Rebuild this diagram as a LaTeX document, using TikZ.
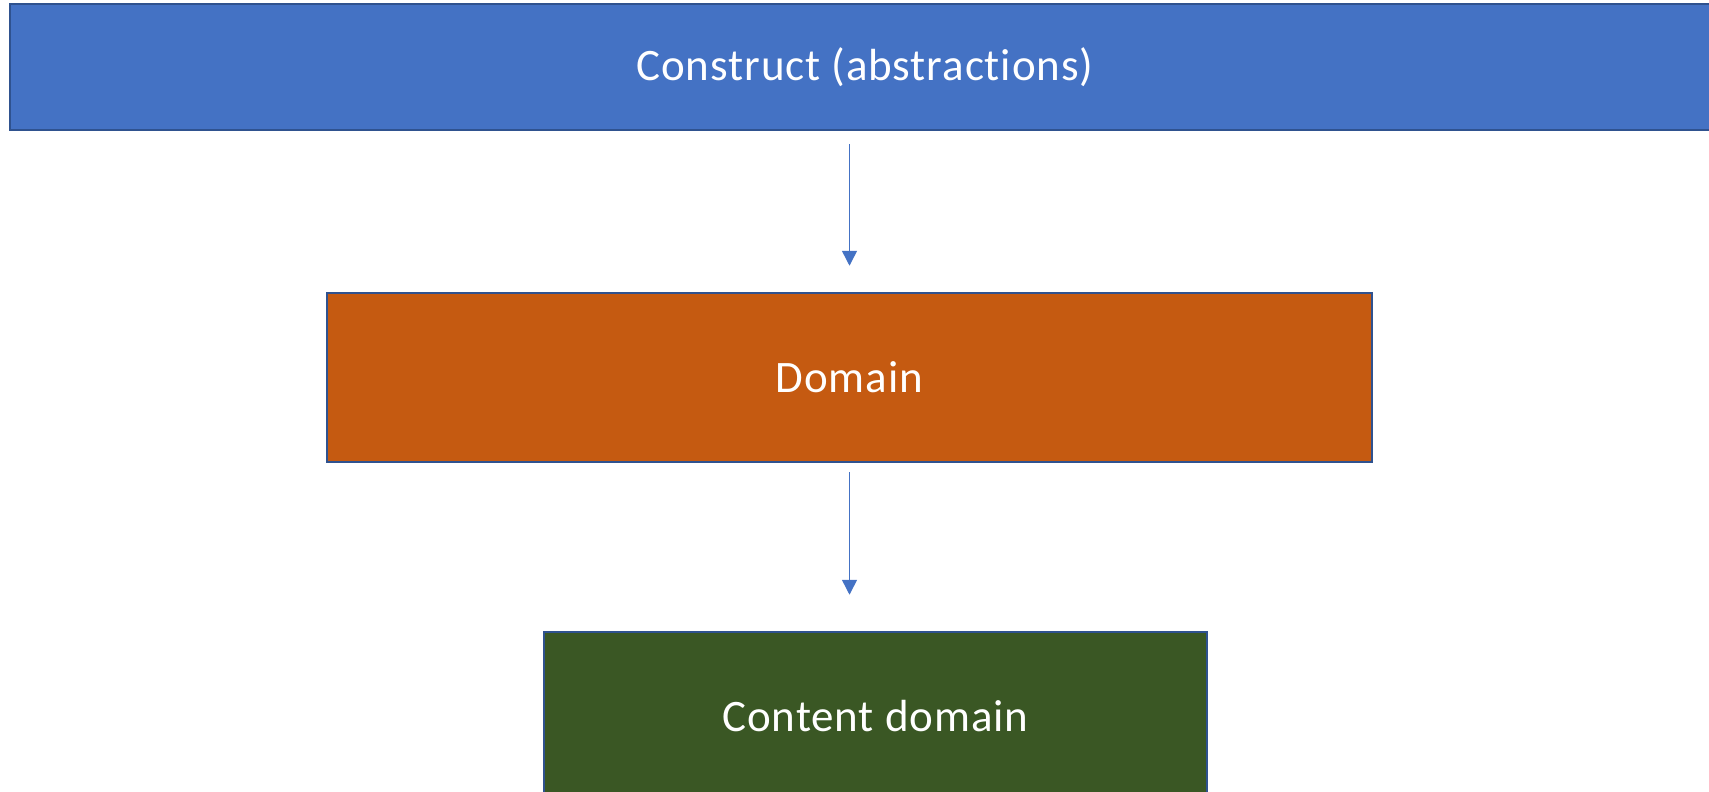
\documentclass[tikz,border=0pt]{standalone}
\usepackage{fontspec}
\setmainfont{Carlito}[LetterSpace=2, Ligatures=NoCommon]
\usetikzlibrary{arrows.meta}
\definecolor{cblue}{HTML}{4472C4}
\definecolor{cedge}{HTML}{2F528F}
\definecolor{corange}{HTML}{C55A11}
\definecolor{cgreen}{HTML}{3A5724}
\tikzset{
  boxstyle/.style={draw=cedge, line width=2.5pt, inner sep=0pt, text=white,
    font=\fontsize{45}{54}\selectfont},
  arr/.style={draw=cblue, line width=1.5pt, -{Triangle[width=15pt,length=15pt]}}
}
\begin{document}
\begin{tikzpicture}[x=1pt,y=-1pt]
\useasboundingbox (0,0) rectangle (1709,792);
\begin{scope}
\clip (0,0) rectangle (1709,792);
\node[boxstyle, fill=cblue, minimum width=1710pt, minimum height=126pt] (top) at (865,67) {Construct (abstractions)};
\node[boxstyle, fill=corange, minimum width=1045pt, minimum height=169pt] (dom) at (849.5,377.5) {Domain};
\node[boxstyle, fill=cgreen, minimum width=663pt, minimum height=169pt] (cd) at (875.5,716.5) {Content domain};
\end{scope}
\draw[arr, shorten <=13pt, shorten >=26pt] (dom.north |- top.south) -- (dom.north);
\draw[arr, shorten <=9pt, shorten >=36pt] (dom.south) -- (cd.north -| dom.south);
\end{tikzpicture}
\end{document}
